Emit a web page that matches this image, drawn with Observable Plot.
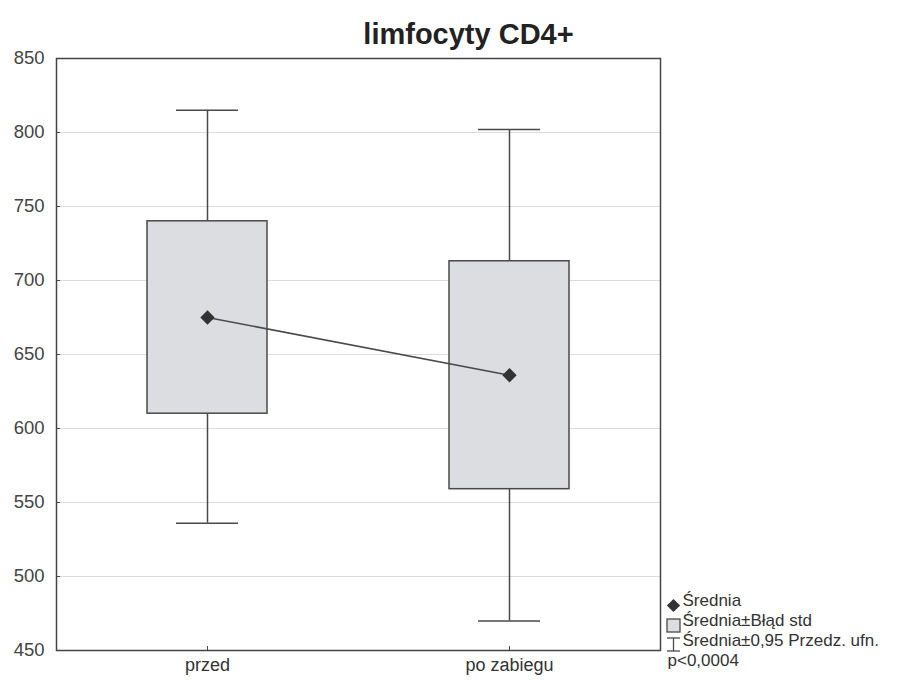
<!DOCTYPE html>
<html>
<head>
<meta charset="utf-8">
<script src="https://cdn.jsdelivr.net/npm/d3@7"></script>
<script src="https://cdn.jsdelivr.net/npm/@observablehq/plot@0.6"></script>
<style>
  body { margin: 0; background: #fff; }
  svg { font-family: "Liberation Sans", Arial, sans-serif; }
</style>
</head>
<body>
<div id="chart"></div>
<script>
const title = "limfocyty CD4+";
const groups = ["przed", "po zabiegu"];
const means = [675, 636];
const seLow = [610, 559];
const seHigh = [740, 713];
const ciLow = [536, 470];
const ciHigh = [815, 802];
const yTicks = [450, 500, 550, 600, 650, 700, 750, 800, 850];
const legendLabels = ["Średnia", "Średnia±Błąd std", "Średnia±0,95 Przedz. ufn.", "p<0,0004"];

const data = groups.map((g, i) => ({
  g, mean: means[i], seLow: seLow[i], seHigh: seHigh[i], ciLow: ciLow[i], ciHigh: ciHigh[i]
}));

const fg = "#4a4a4a";
const legendDy = [-45, -25, -5, 15];
const legendDx = [22, 22, 22, 7];
const chart = Plot.plot({
  width: 912,
  height: 680,
  marginTop: 58,
  marginBottom: 30,
  marginLeft: 56,
  marginRight: 252,
  style: { fontFamily: "Liberation Sans, Arial, sans-serif", color: "#333", background: "#fff" },
  x: { type: "band", domain: groups, padding: 0, label: null },
  y: { domain: [450, 850], label: null },
  marks: [
    Plot.ruleY(yTicks.slice(1, -1), { stroke: "#dcdcdc", strokeWidth: 1.2 }),
    Plot.axisY({ ticks: yTicks, tickSize: 0, tickPadding: 12, fontSize: 18.5, fill: "#444", label: null }),
    Plot.axisY({ ticks: yTicks, tickSize: 4, dx: 4, tickFormat: () => "", stroke: fg, label: null }),
    Plot.axisX({ tickSize: 0, tickPadding: 8, fontSize: 18, fill: "#333", label: null }),
    Plot.axisX({ tickSize: 4, dy: -4, tickFormat: () => "", stroke: fg, label: null }),
    Plot.ruleX(data, { x: "g", y1: "ciLow", y2: "ciHigh", stroke: fg, strokeWidth: 1.5 }),
    Plot.tickY(data, { x: "g", y: "ciLow", insetLeft: 120, insetRight: 120, stroke: fg, strokeWidth: 1.5 }),
    Plot.tickY(data, { x: "g", y: "ciHigh", insetLeft: 120, insetRight: 120, stroke: fg, strokeWidth: 1.5 }),
    Plot.barY(data, { x: "g", y1: "seLow", y2: "seHigh", insetLeft: 91, insetRight: 91, fill: "#dcdde0", stroke: fg, strokeWidth: 1.5 }),
    Plot.line(data, { x: "g", y: "mean", stroke: fg, strokeWidth: 1.5 }),
    Plot.dot(data, { x: "g", y: "mean", symbol: "diamond2", r: 5.5, fill: "#333", stroke: "#333" }),
    Plot.frame({ stroke: "#444", strokeWidth: 1.5 }),
    // title
    Plot.text([title], { frameAnchor: "top", dx: 110, dy: -35, fontSize: 29, fontWeight: "bold", fill: "#222" }),
    // legend
    Plot.dot([legendLabels[0]], { frameAnchor: "bottom-right", dx: 13, dy: -45, symbol: "diamond2", r: 5, fill: "#333", stroke: "#333" }),
    ...legendLabels.map((label, i) => Plot.text([label], {
      frameAnchor: "bottom-right", textAnchor: "start", fontSize: 17, fill: "#333",
      dx: legendDx[i], dy: legendDy[i]
    })),
  ]
});

// legend symbols for box and whisker
const svg = d3.select(chart);
const xr = 660, yb = 650;
svg.append("rect").attr("x", xr + 7).attr("y", yb - 31).attr("width", 13).attr("height", 13)
  .attr("fill", "#dcdde0").attr("stroke", fg).attr("stroke-width", 1.3);
const g = svg.append("g").attr("stroke", fg).attr("stroke-width", 1.3);
g.append("line").attr("x1", xr + 7).attr("x2", xr + 20).attr("y1", yb - 12).attr("y2", yb - 12);
g.append("line").attr("x1", xr + 7).attr("x2", xr + 20).attr("y1", yb + 1).attr("y2", yb + 1);
g.append("line").attr("x1", xr + 13.5).attr("x2", xr + 13.5).attr("y1", yb - 12).attr("y2", yb + 1);

document.getElementById("chart").appendChild(chart);
</script>
</body>
</html>
